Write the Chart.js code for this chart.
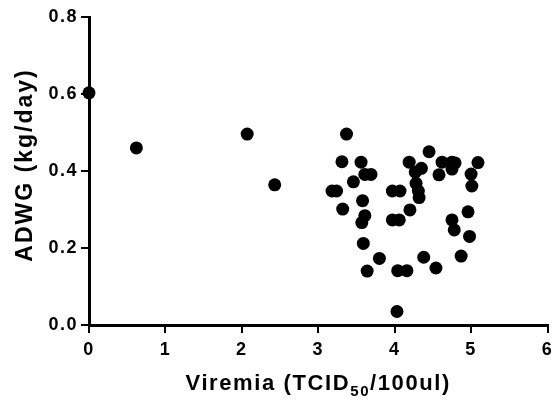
<!DOCTYPE html>
<html>
<head>
<meta charset="utf-8">
<script src="https://cdn.jsdelivr.net/npm/chart.js@4.4.0/dist/chart.umd.min.js"></script>
<style>
  html, body { margin: 0; padding: 0; background: #fff; }
  #wrap { width: 554px; height: 400px; }
</style>
</head>
<body>
<div id="wrap"><canvas id="scatterChart" width="554" height="400"></canvas></div>
<script>
// Viremia (log TCID50/100ul) vs ADWG (kg/day), one pair per animal
const viremia = [
  0, 0.62, 2.07, 2.43,
  3.37, 3.31, 3.56, 3.61, 3.69, 3.46, 3.18, 3.24, 3.32, 3.58, 3.61, 3.57, 3.59, 3.80, 3.64,
  4.45, 4.19, 4.35, 4.27, 4.62, 4.75, 4.79, 4.75, 4.58, 4.28, 4.31, 4.32,
  3.97, 4.07, 4.20, 3.97, 4.06, 4.75, 4.78, 4.38, 4.54, 4.04, 4.16, 4.03,
  4.87, 5.09, 5.00, 5.01, 4.96, 4.98
];
const adwg = [
  0.603, 0.46, 0.496, 0.364,
  0.496, 0.424, 0.423, 0.391, 0.391, 0.372, 0.348, 0.348, 0.301, 0.323, 0.284, 0.266, 0.212, 0.173, 0.140,
  0.450, 0.423, 0.407, 0.397, 0.423, 0.423, 0.421, 0.405, 0.390, 0.368, 0.348, 0.331,
  0.348, 0.348, 0.299, 0.273, 0.273, 0.273, 0.247, 0.176, 0.148, 0.141, 0.141, 0.035,
  0.179, 0.422, 0.392, 0.361, 0.294, 0.230
];
const xTicks = [0, 1, 2, 3, 4, 5, 6];
const yTicks = [0, 0.2, 0.4, 0.6, 0.8];

const FONT = "'Liberation Sans', Arial, Helvetica, sans-serif";

// the original type is a bit wider than Arial, so space the tick labels out
const tickSpacing = {
  id: "tickSpacing",
  beforeDraw(chart) {
    chart.ctx.letterSpacing = "1.5px";
  },
};

// axis titles drawn by hand so the "50" can sit as a subscript
const axisTitles = {
  id: "axisTitles",
  afterDraw(chart) {
    const ctx = chart.ctx;
    const area = chart.chartArea;
    ctx.save();
    ctx.fillStyle = "#000";
    ctx.textBaseline = "alphabetic";
    ctx.textAlign = "left";

    // x title with subscript
    const parts = [
      { text: "Viremia (TCID", font: "bold 22px " + FONT, dy: 0 },
      { text: "50", font: "bold 15px " + FONT, dy: 6 },
      { text: "/100ul)", font: "bold 22px " + FONT, dy: 0 },
    ];
    ctx.letterSpacing = "1.6px";
    let total = 0;
    parts.forEach((p) => {
      ctx.font = p.font;
      p.w = ctx.measureText(p.text).width;
      total += p.w;
    });
    let x = (area.left + area.right) / 2 - total / 2;
    const baseY = 390;
    parts.forEach((p) => {
      ctx.font = p.font;
      ctx.fillText(p.text, x, baseY + p.dy);
      x += p.w;
    });

    // y title, rotated
    ctx.font = "bold 23px " + FONT;
    ctx.letterSpacing = "2px";
    ctx.textAlign = "center";
    ctx.translate(32, 165);
    ctx.rotate(-Math.PI / 2);
    ctx.fillText("ADWG (kg/day)", 0, 0);
    ctx.restore();
  },
};

const ctx = document.getElementById("scatterChart").getContext("2d");
new Chart(ctx, {
  type: "scatter",
  data: {
    datasets: [
      {
        label: "ADWG",
        data: viremia.map((v, i) => ({ x: v, y: adwg[i] })),
        backgroundColor: "#000",
        borderWidth: 0,
        pointRadius: 6.5,
        pointHoverRadius: 6.5,
        clip: false,
      },
    ],
  },
  options: {
    responsive: false,
    animation: false,
    events: [],
    layout: { padding: { left: 0, right: 6, top: 17, bottom: 0 } },
    plugins: { legend: { display: false }, tooltip: { enabled: false } },
    scales: {
      x: {
        type: "linear",
        min: 0,
        max: 6,
        afterBuildTicks: (scale) => {
          scale.ticks = xTicks.map((v) => ({ value: v }));
        },
        afterFit: (scale) => {
          scale.height = 75;
          scale.paddingLeft = 0;
          scale.paddingRight = 0;
        },
        grid: {
          drawOnChartArea: false,
          drawTicks: true,
          tickLength: 8,
          color: "#000",
          lineWidth: 2,
        },
        border: { display: true, color: "#000", width: 3 },
        ticks: {
          color: "#000",
          padding: 6,
          maxRotation: 0,
          font: { family: FONT, size: 18, weight: "bold" },
          callback: (v) => String(v),
        },
      },
      y: {
        type: "linear",
        min: 0,
        max: 0.8,
        afterBuildTicks: (scale) => {
          scale.ticks = yTicks.map((v) => ({ value: v }));
        },
        afterFit: (scale) => {
          scale.width = 89;
          scale.paddingTop = 0;
          scale.paddingBottom = 0;
        },
        grid: {
          drawOnChartArea: false,
          drawTicks: true,
          tickLength: 8,
          color: "#000",
          lineWidth: 2,
        },
        border: { display: true, color: "#000", width: 3 },
        ticks: {
          color: "#000",
          padding: 3,
          font: { family: FONT, size: 18, weight: "bold" },
          callback: (v) => Number(v).toFixed(1),
        },
      },
    },
  },
  plugins: [tickSpacing, axisTitles],
});
</script>
</body>
</html>
